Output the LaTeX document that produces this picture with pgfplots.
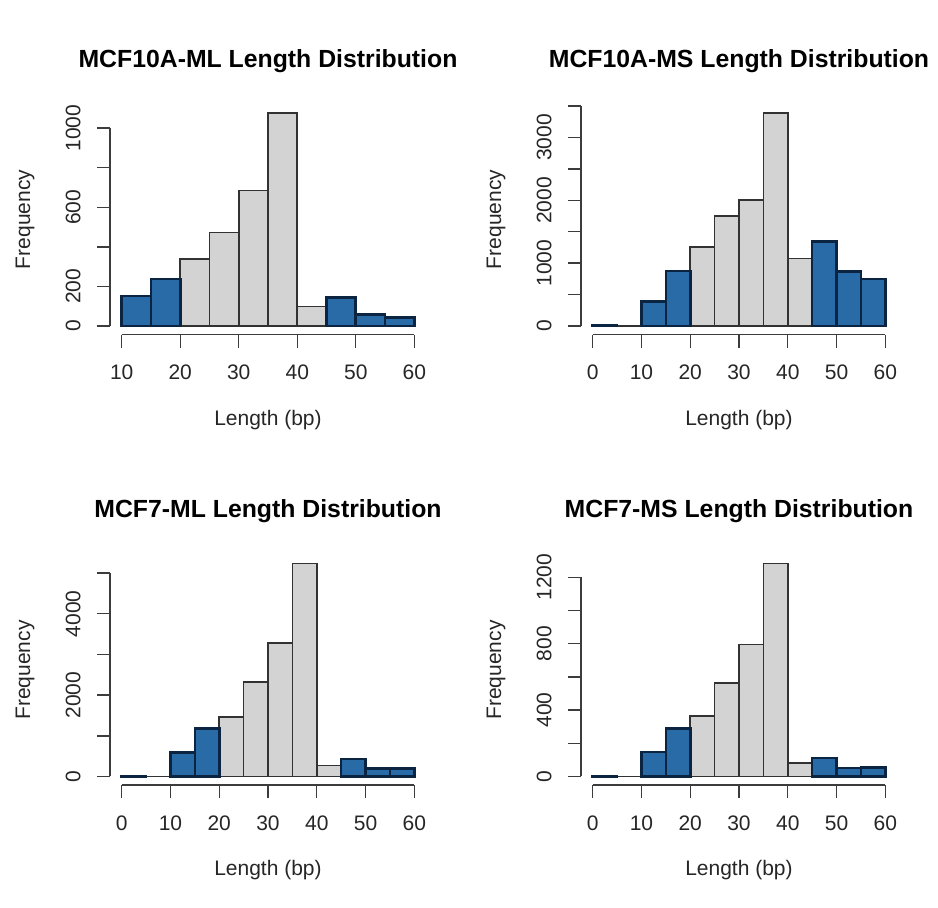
\documentclass[border=0pt]{standalone}
\usepackage{fontspec}
\setmainfont{Liberation Sans}
\usepackage{pgfplots}
\usepackage{pgfplotstable}
\pgfplotsset{compat=1.18}
\definecolor{barblue}{RGB}{41,107,166}
\definecolor{bluedge}{RGB}{10,36,66}
\definecolor{bargray}{RGB}{211,211,211}
\definecolor{grayedge}{RGB}{50,50,50}
\definecolor{axgray}{RGB}{60,60,60}

% MCF10A-ML
\pgfplotstableread{
x y
12.5 152
17.5 238
47.5 143
52.5 59
57.5 44
}\Ablue
\pgfplotstableread{
x y
22.5 337
27.5 472
32.5 685
37.5 1076
42.5 98
}\Agray
% MCF10A-MS
\pgfplotstableread{
x y
2.5 15
12.5 386
17.5 877
47.5 1347
52.5 872
57.5 750
}\Bblue
\pgfplotstableread{
x y
7.5 0
22.5 1257
27.5 1748
32.5 2007
37.5 3390
42.5 1072
}\Bgray
% MCF7-ML
\pgfplotstableread{
x y
2.5 15
12.5 584
17.5 1185
47.5 428
52.5 198
57.5 198
}\Cblue
\pgfplotstableread{
x y
7.5 0
22.5 1457
27.5 2321
32.5 3276
37.5 5235
42.5 272
}\Cgray
% MCF7-MS
\pgfplotstableread{
x y
2.5 4
12.5 147
17.5 288
47.5 111
52.5 52
57.5 56
}\Dblue
\pgfplotstableread{
x y
7.5 0
22.5 365
27.5 563
32.5 795
37.5 1283
42.5 83
}\Dgray

\pgfplotsset{
  rhist/.style={
    width=158pt, height=115pt, scale only axis,
    anchor=north west, clip=false,
    axis line style={draw=none},
    tick align=outside,
    major tick length=6.5pt,
    xtick pos=bottom, ytick pos=left,
    tick style={axgray, line width=0.7pt},
    xtick={0,10,...,60},
    /pgf/number format/assume math mode=true,
    ticklabel style={font=\fontsize{10.5}{12}\selectfont, text=black!85},
    xticklabel style={anchor=center, yshift=-12.5pt},
    yticklabel style={anchor=center, xshift=-11.9pt, rotate=90},
    xlabel={Length (bp)},
    ylabel={Frequency},
    every axis x label/.style={at={(axis description cs:0.5,-0.3717)}, anchor=center, font=\fontsize{10.5}{12}\selectfont, text=black!85},
    every axis y label/.style={at={(axis description cs:-0.269,0.5)}, anchor=center, rotate=90, font=\fontsize{10.5}{12}\selectfont, text=black!85},
    every axis title/.style={at={(axis description cs:0.5,1.163)}, anchor=base, font=\bfseries\fontsize{12.4}{14}\selectfont, text=black},
  },
  gbar/.style={ybar, bar width=5, bar shift=0pt, fill=bargray, draw=grayedge, line width=0.8pt},
  bbar/.style={ybar, bar width=5, bar shift=0pt, fill=barblue, draw=bluedge, line width=1.3pt},
}

\begin{document}
\begin{tikzpicture}
\useasboundingbox (0,0) rectangle (469pt,-453.5pt);

% Panel 1
\begin{axis}[rhist, at={(55pt,-52.25pt)},
  title={MCF10A-ML Length Distribution},
  xmin=8, xmax=62, ymin=-43.04, ymax=1119.04,
  ytick={0,200,...,1000}, yticklabels={0,200,,600,,1000}]
  \addplot[gbar] table {\Agray};
  \addplot[bbar] table {\Ablue};
  \draw[axgray, line width=0.7pt] (axis cs:10,-43.04) -- (axis cs:60,-43.04);
  \draw[axgray, line width=0.7pt] (axis cs:8,0) -- (axis cs:8,1000);
\end{axis}

% Panel 2
\begin{axis}[rhist, at={(290.5pt,-52.25pt)},
  title={MCF10A-MS Length Distribution},
  xmin=-2.4, xmax=62.4, ymin=-135.6, ymax=3525.6,
  ytick={0,500,...,3500}, yticklabels={0,,1000,,2000,,3000,}]
  \addplot[gbar] table {\Bgray};
  \addplot[bbar] table {\Bblue};
  \draw[axgray, line width=0.7pt] (axis cs:0,-135.6) -- (axis cs:60,-135.6);
  \draw[axgray, line width=0.7pt] (axis cs:-2.4,0) -- (axis cs:-2.4,3500);
\end{axis}

% Panel 3
\begin{axis}[rhist, at={(55pt,-277.5pt)},
  title={MCF7-ML Length Distribution},
  xmin=-2.4, xmax=62.4, ymin=-209.4, ymax=5444.4,
  ytick={0,1000,...,5000}, yticklabels={0,,2000,,4000,}]
  \addplot[gbar] table {\Cgray};
  \addplot[bbar] table {\Cblue};
  \draw[axgray, line width=0.7pt] (axis cs:0,-209.4) -- (axis cs:60,-209.4);
  \draw[axgray, line width=0.7pt] (axis cs:-2.4,0) -- (axis cs:-2.4,5000);
\end{axis}

% Panel 4
\begin{axis}[rhist, at={(290.5pt,-277.5pt)},
  title={MCF7-MS Length Distribution},
  xmin=-2.4, xmax=62.4, ymin=-51.3, ymax=1334.3,
  ytick={0,200,...,1200}, yticklabels={0,,400,,800,,1200}]
  \addplot[gbar] table {\Dgray};
  \addplot[bbar] table {\Dblue};
  \draw[axgray, line width=0.7pt] (axis cs:0,-51.3) -- (axis cs:60,-51.3);
  \draw[axgray, line width=0.7pt] (axis cs:-2.4,0) -- (axis cs:-2.4,1200);
\end{axis}
\end{tikzpicture}
\end{document}
